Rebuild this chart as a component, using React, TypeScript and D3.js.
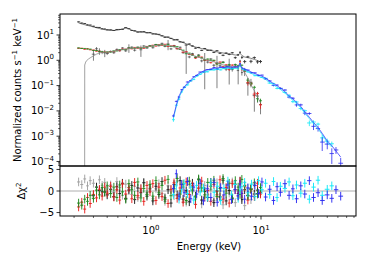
import React from "react";
import * as d3 from "d3";

// ---------------- data ----------------
// soft-band energy grid (keV) shared by the three soft-X-ray spectra
const softEnergy = [
  0.22, 0.235, 0.25, 0.265, 0.28, 0.3, 0.32, 0.34, 0.36, 0.38, 0.4,
  0.43, 0.46, 0.49, 0.52, 0.55, 0.59, 0.63, 0.67, 0.71, 0.76, 0.81, 0.86, 0.92, 0.98,
  1.04, 1.11, 1.18, 1.26, 1.34, 1.43, 1.52, 1.62, 1.73, 1.84, 1.96, 2.09, 2.23, 2.38, 2.54, 2.71, 2.89, 3.08, 3.28,
  3.5, 3.73, 3.98, 4.24, 4.52, 4.82, 5.14, 5.48, 5.84, 6.2, 6.45, 6.7, 7.1, 7.6, 8.1, 8.7, 9.3, 9.9,
];
// model of the bright (upper) spectrum, counts s^-1 keV^-1
const upperModel = [
  29.8, 27.5, 25.5, 24, 22.5, 20.7, 19.3, 18, 17, 16.3, 15.7,
  15.3, 15.2, 15.5, 16.2, 17.3, 18.7, 17.5, 15.5, 14.2, 13.6, 13.1, 12.8, 12.4, 12.1,
  11.6, 10.8, 10.1, 9.4, 8.7, 8.0, 7.3, 6.7, 6.1, 5.5, 5.0, 4.5, 4.1, 3.7, 3.35, 3.1, 2.9, 2.75, 2.6,
  2.45, 2.3, 2.15, 2.05, 1.95, 1.85, 1.78, 1.7, 1.62, 1.6, 1.9, 1.55, 1.35, 1.27, 1.2, 1.08, 0.98, 0.87,
];
// model of the lower group (black / red / green)
const lowerModel = [
  3.36, 3.25, 3.12, 3.0, 2.85, 2.6, 2.42, 2.25, 2.13, 2.08, 2.08,
  2.15, 2.3, 2.45, 2.55, 2.65, 2.8, 2.9, 3.0, 3.05, 3.08, 3.1, 3.2, 3.4, 3.6,
  3.75, 3.9, 4.0, 4.05, 4.0, 3.85, 3.65, 3.4, 3.1, 2.75, 2.35, 2.0, 1.75, 1.58, 1.45, 1.32, 1.2, 1.1, 1.0,
  0.94, 0.87, 0.79, 0.72, 0.66, 0.62, 0.58, 0.56, 0.54, 0.56, 0.7, 0.48, 0.33, 0.2, 0.11, 0.062, 0.035, 0.021,
];
// low-energy part of the grey model line (absorbed component)
const greyModelEnergy = [0.2495, 0.25, 0.255, 0.26, 0.27, 0.28, 0.3, 0.32, 0.34, 0.36, 0.38, 0.4];
const greyModelValue = [1e-6, 0.65, 0.85, 0.97, 1.12, 1.25, 1.5, 1.75, 1.95, 2.05, 2.08, 2.08];

// fractional 1-sigma errors
const upperErr = [
  0.05, 0.05, 0.04, 0.04, 0.04, 0.04, 0.04, 0.04, 0.03, 0.03, 0.03,
  0.03, 0.03, 0.03, 0.03, 0.03, 0.03, 0.03, 0.03, 0.03, 0.03, 0.03, 0.03, 0.03, 0.03,
  0.03, 0.03, 0.03, 0.03, 0.03, 0.03, 0.04, 0.04, 0.04, 0.04, 0.04, 0.04, 0.05, 0.05, 0.05, 0.05, 0.05, 0.05, 0.05,
  0.05, 0.05, 0.06, 0.06, 0.06, 0.07, 0.07, 0.08, 0.08, 0.09, 0.09, 0.1, 0.1, 0.11, 0.12, 0.13, 0.14, 0.15,
];
const lowerErr = [
  0.03, 0.03, 0.03, 0.03, 0.03, 0.03, 0.03, 0.03, 0.03, 0.03, 0.03,
  0.03, 0.03, 0.03, 0.03, 0.03, 0.03, 0.03, 0.03, 0.03, 0.03, 0.03, 0.03, 0.03, 0.03,
  0.03, 0.03, 0.03, 0.03, 0.03, 0.03, 0.03, 0.04, 0.04, 0.04, 0.04, 0.04, 0.04, 0.05, 0.05, 0.05, 0.05, 0.05, 0.06,
  0.06, 0.06, 0.07, 0.07, 0.08, 0.08, 0.09, 0.09, 0.1, 0.1, 0.11, 0.12, 0.14, 0.16, 0.18, 0.2, 0.22, 0.25,
];
const blackErr = [
  0.3, 0.3, 0.3, 0.3, 0.3, 0.3, 0.2, 0.3, 0.15, 0.3, 0.12,
  0.1, 0.1, 0.1, 0.09, 0.09, 0.09, 0.4, 0.08, 0.09, 0.08, 0.4, 0.08, 0.08, 0.08,
  0.07, 0.07, 0.07, 0.07, 0.07, 0.5, 0.08, 0.08, 0.08, 0.08, 0.08, 0.9, 0.09, 0.09, 0.09, 0.09, 0.1, 0.85, 0.1,
  0.1, 0.1, 0.9, 0.11, 0.12, 0.12, 0.9, 0.13, 0.14, 0.5, 0.15, 0.16, 0.4, 0.4, 0.45, 0.5, 0.5, 0.5,
];

// residuals (data - model) / sigma
const upperRes = [
  2.1, 1.5, 2.8, 1.2, 2.4, 1.8, 0.9, 2.6, 1.3, 2.0, 0.7,
  1.4, -0.3, 2.2, 0.8, -1.0, 1.6, 0.4, -0.8, 1.1, -1.5, 0.6, 2.0, -0.4, 0.9,
  -1.8, 0.5, 1.7, -0.6, -2.4, 1.2, 0.2, -1.1, 2.3, -0.7, 0.9, -2.6, 1.5, -0.2, -1.9, 0.8, -3.0, 1.3, -0.9,
  0.4, -2.2, 1.9, -1.3, -3.2, 0.6, -0.5, 2.1, -2.7, 0.3, 1.0, -1.6, -3.4, 0.7, -2.0, 1.4, -0.8, 0.2,
];
const blackRes = [
  null, null, null, null, null, -1.1, 0.9, 0.1, -0.2, -0.2, -0.9,
  0.4, -1.3, 1.0, -0.6, 1.8, -1.7, 0.2, 1.3, -2.0, 0.7, -0.4, 1.9, -1.2, 0.5,
  -2.3, 1.1, -0.8, 2.2, -1.6, 0.3, -2.8, 1.5, -0.9, 2.4, -1.9, 0.05, -2.5, 1.8, -1.2, 2.6, -2.1, -0.1, -1.5,
  2.0, -2.7, 0.0, -1.4, 2.5, -2.3, 0.1, -1.8, 1.6, -0.6, 2.3, -2.0, 0.3, -1.0, 0.5, -0.7, 0.2, -0.3,
];
const redRes = [
  -3.7, -2.6, -4.2, -1.5, -2.9, -0.8, -1.6, 0.4, -1.2, 0.9, -0.5,
  1.1, -1.4, 0.3, -2.1, 1.6, -0.7, 0.8, -1.8, 2.0, -1.1, 0.5, -2.4, 1.3, -0.2,
  1.7, -2.2, 0.9, -1.3, 2.5, -2.9, 0.4, 1.9, -1.7, 0.7, -2.6, 2.1, -0.8, 1.2, -3.1, 0.6, 2.3, -1.4, 0.1,
  -2.4, 1.5, -0.9, 2.6, -1.9, 0.8, -2.8, 1.7, 0.3, -1.2, 2.2, -0.6, 1.0, -2.1, 0.4, -1.3, 1.8, -0.7,
];
const greenRes = [
  -2.8, -3.3, -1.9, -2.4, -1.0, -1.7, 0.2, -0.9, 0.8, -0.3, 1.2,
  -0.6, 0.9, -1.5, 1.4, -0.2, -1.9, 1.7, 0.3, -1.0, 2.1, -1.6, 0.6, -0.8, 1.5,
  -1.2, 2.4, -0.4, 1.3, -2.0, 2.7, -1.1, 0.5, 2.9, -0.7, 1.6, -2.2, 2.3, 0.2, -1.4, 2.8, 0.7, -0.9, 2.0,
  1.1, 2.5, -1.3, 0.6, 2.9, -0.5, 1.8, -1.6, 2.4, 0.9, -0.8, 2.7, 1.3, -1.1, 0.4, 1.9, -0.6, 0.8,
];

// hard-band grid (keV) shared by the two hard-X-ray spectra
const hardEnergy = [
  1.6, 1.7, 1.8, 1.9, 2.0, 2.15, 2.3, 2.45, 2.6, 2.8, 3.0,
  3.25, 3.5, 3.75, 4.0, 4.3, 4.6, 5.0, 5.4, 5.8, 6.2, 6.45, 6.7,
  7.1, 7.6, 8.2, 8.8, 9.5, 10.2, 11, 12, 13, 14, 15,
  16.5, 18, 19.5, 21, 23, 25, 27.5, 30, 33, 36, 40, 44, 48, 53,
];
const hardModel = [
  0.0058, 0.017, 0.039, 0.062, 0.088, 0.125, 0.17, 0.215, 0.26, 0.32, 0.38,
  0.42, 0.46, 0.48, 0.5, 0.52, 0.53, 0.54, 0.54, 0.54, 0.56, 0.7, 0.5,
  0.46, 0.4, 0.34, 0.3, 0.26, 0.235, 0.2, 0.15, 0.12, 0.098, 0.08,
  0.058, 0.039, 0.03, 0.022, 0.015, 0.0091, 0.0056, 0.0035, 0.0022, 0.0013, 0.00065, 0.00042, 0.00026, 0.00015,
];
const hardErr = [
  0.15, 0.1, 0.08, 0.07, 0.06, 0.05, 0.05, 0.04, 0.04, 0.04, 0.04,
  0.04, 0.04, 0.04, 0.04, 0.04, 0.04, 0.04, 0.04, 0.04, 0.04, 0.04, 0.04,
  0.04, 0.04, 0.05, 0.05, 0.05, 0.05, 0.06, 0.06, 0.07, 0.07, 0.08,
  0.09, 0.1, 0.11, 0.12, 0.13, 0.15, 0.17, 0.2, 0.22, 0.25, 0.28, 0.3, 0.33, 0.36,
];
const blueRes = [
  0.6, 4.0, -1.2, 1.5, -0.4, 2.2, -1.8, 0.9, -0.7, 1.8, -2.3,
  0.5, -1.5, 2.0, -2.6, 0.8, -0.9, 1.4, -2.0, 0.3, -1.1, 1.6, -0.5,
  -1.9, 0.7, -1.2, 1.3, -0.6, 2.1, -1.4, 0.4, -2.2, 1.0, -0.3,
  1.7, -1.0, 0.5, -1.8, 1.2, -0.7, 2.4, -1.5, -0.4, -2.2, -0.9, -1.7, 0.3, -1.2,
];
const cyanRes = [
  -0.8, 1.2, -1.9, 0.4, 1.7, -0.6, 0.9, -2.1, 1.3, -0.2, 0.7,
  -1.4, 1.9, -0.3, 1.1, -2.2, 0.6, 2.3, -0.9, 1.5, -1.7, 0.2, 1.0,
  2.0, -0.4, 1.6, -1.3, 2.4, 0.3, 1.8, -0.8, 2.2, -1.5, 1.1,
  0.6, 2.1, -1.1, 1.4, -0.5, 1.8, -1.9, 0.9, 2.5, -1.0, 0.4, 1.2, null, null,
];
const fpmbNorm = 0.88;

// axis ticks
const yTopExponents = [-4, -3, -2, -1, 0, 1];
const xMajorExponents = [0, 1];
const resTicks = [-5, 0, 5];

// ---------------- drawing ----------------
type Series = {
  E: number[];
  model: number[];
  err: number[];
  res: (number | null)[];
  norm: number;
  color: string;
  resColor: string;
  width: number;
};

const FONT = "DejaVu Sans, sans-serif";
const sup = (n: number) => (n < 0 ? "\u2212" + Math.abs(n) : String(n));

function binEdges(E: number[]) {
  return E.map((e, i) => {
    const lo = i > 0 ? Math.sqrt(E[i - 1] * e) : e / Math.sqrt(E[i + 1] / e);
    const hi = i < E.length - 1 ? Math.sqrt(E[i + 1] * e) : e * Math.sqrt(e / E[i - 1]);
    return [lo, hi];
  });
}

export default function App() {
  const W = 367;
  const H = 264;
  const X0 = 60, X1 = 356, YT = 14, YM = 166, YB = 216;

  const x = d3.scaleLog().domain([0.149, 73]).range([X0, X1]);
  const yTop = d3.scaleLog().domain([Math.pow(10, -4.178), Math.pow(10, 1.83)]).range([YM, YT]);
  const yRes = d3.scaleLinear().domain([-5.8, 5.8]).range([YB, YM]);

  // drawing order: cyan before blue so the blue spectrum sits on top
  const series: Series[] = [
    { E: softEnergy, model: upperModel, err: upperErr, res: upperRes, norm: 1, color: "#333333", resColor: "#a0a0a0", width: 0.9 },
    { E: softEnergy, model: lowerModel, err: blackErr, res: blackRes, norm: 1, color: "#2a2a2a", resColor: "#1a1a1a", width: 0.6 },
    { E: softEnergy, model: lowerModel, err: lowerErr, res: redRes, norm: 1, color: "#e8201e", resColor: "#e8201e", width: 0.8 },
    { E: softEnergy, model: lowerModel, err: lowerErr, res: greenRes, norm: 1, color: "#1f8a1f", resColor: "#1f8a1f", width: 0.8 },
    { E: hardEnergy, model: hardModel, err: hardErr, res: cyanRes, norm: fpmbNorm, color: "#10e8f8", resColor: "#10e8f8", width: 0.8 },
    { E: hardEnergy, model: hardModel, err: hardErr, res: blueRes, norm: 1, color: "#2a2af0", resColor: "#2a2af0", width: 0.8 },
  ];

  const topPaths = series.map((s) => {
    const ed = binEdges(s.E);
    let p = "";
    s.E.forEach((e, i) => {
      const r = s.res[i];
      if (r == null) return;
      const m = s.model[i] * s.norm;
      const sig = m * s.err[i];
      const c = m + r * sig;
      if (c <= 0) return;
      const yc = yTop(c);
      const ylo = yTop(Math.max(c - sig, 1e-7));
      const yhi = yTop(c + sig);
      p += `M${x(ed[i][0]).toFixed(2)},${yc.toFixed(2)}H${x(ed[i][1]).toFixed(2)}`;
      p += `M${x(e).toFixed(2)},${ylo.toFixed(2)}V${yhi.toFixed(2)}`;
    });
    return p;
  });

  const resPaths = series.map((s) => {
    const ed = binEdges(s.E);
    let p = "";
    s.E.forEach((e, i) => {
      const r = s.res[i];
      if (r == null) return;
      const yc = yRes(r);
      p += `M${x(ed[i][0]).toFixed(2)},${yc.toFixed(2)}H${x(ed[i][1]).toFixed(2)}`;
      p += `M${x(e).toFixed(2)},${yRes(r - 1).toFixed(2)}V${yRes(r + 1).toFixed(2)}`;
    });
    return p;
  });

  const line = d3
    .line<[number, number]>()
    .x((d) => x(d[0]))
    .y((d) => yTop(d[1]));

  const lowerLine: [number, number][] = [
    ...greyModelEnergy.map((e, i) => [e, greyModelValue[i]] as [number, number]),
    ...softEnergy.slice(11).map((e, i) => [e, lowerModel[i + 11]] as [number, number]),
  ];
  const upperLine: [number, number][] = softEnergy.map((e, i) => [e, upperModel[i]]);
  const blueLine: [number, number][] = hardEnergy.map((e, i) => [e, hardModel[i]]);
  const cyanLine: [number, number][] = hardEnergy.slice(0, 46).map((e, i) => [e, hardModel[i] * fpmbNorm]);

  // ticks
  const yMinor: number[] = [];
  for (let p = -5; p <= 2; p++) {
    for (let k = 2; k <= 9; k++) {
      const v = k * Math.pow(10, p);
      const [a, b] = yTop.domain();
      if (v >= a && v <= b) yMinor.push(v);
    }
  }
  const xMinor: number[] = [];
  for (let p = -1; p <= 1; p++) {
    for (let k = 2; k <= 9; k++) {
      const v = k * Math.pow(10, p);
      const [a, b] = x.domain();
      if (v >= a && v <= b) xMinor.push(v);
    }
  }

  return (
    <svg
      width={W}
      height={H}
      viewBox={`0 0 ${W} ${H}`}
      style={{ position: "absolute", left: 0, top: 0, background: "#fff" }}
      fontFamily={FONT}
    >
      <defs>
        <clipPath id="clipTop">
          <rect x={X0} y={YT} width={X1 - X0} height={YM - YT} />
        </clipPath>
        <clipPath id="clipRes">
          <rect x={X0} y={YM} width={X1 - X0} height={YB - YM} />
        </clipPath>
      </defs>
      <rect x={0} y={0} width={W} height={H} fill="#fff" />

      {/* top panel data */}
      <g clipPath="url(#clipTop)" fill="none">
        {topPaths.map((p, i) => (
          <path key={i} d={p} stroke={series[i].color} strokeWidth={series[i].width} />
        ))}
        <path d={line(upperLine) || ""} stroke="#333" strokeWidth={0.6} />
        <path d={line(lowerLine) || ""} stroke="#8a8a8a" strokeWidth={0.8} />
        <path d={line(cyanLine) || ""} stroke="#10e8f8" strokeWidth={0.7} />
        <path d={line(blueLine) || ""} stroke="#3a3aff" strokeWidth={0.8} />
      </g>

      {/* residual panel */}
      <line x1={X0} x2={X1} y1={yRes(0)} y2={yRes(0)} stroke="#999" strokeWidth={0.8} />
      <g clipPath="url(#clipRes)" fill="none">
        {resPaths.map((p, i) => (
          <path key={i} d={p} stroke={series[i].resColor} strokeWidth={0.95} />
        ))}
      </g>

      {/* frames */}
      <rect x={X0} y={YT} width={X1 - X0} height={YM - YT} fill="none" stroke="#000" strokeWidth={1} />
      <rect x={X0} y={YM} width={X1 - X0} height={YB - YM} fill="none" stroke="#000" strokeWidth={1} />

      {/* top y axis */}
      {yMinor.map((v, i) => (
        <line key={"ym" + i} x1={X0 - 2} x2={X0} y1={yTop(v)} y2={yTop(v)} stroke="#000" strokeWidth={0.6} />
      ))}
      {yTopExponents.map((p) => {
        const yy = yTop(Math.pow(10, p));
        return (
          <g key={"yt" + p}>
            <line x1={X0 - 3.5} x2={X0} y1={yy} y2={yy} stroke="#000" strokeWidth={0.8} />
            <text x={X0 - 6} y={yy + 3.6} fontSize={10} textAnchor="end" fill="#000">
              <tspan>10</tspan>
              <tspan dy={-4.5} fontSize={7}>
                {sup(p)}
              </tspan>
            </text>
          </g>
        );
      })}

      {/* residual y axis */}
      {resTicks.map((t) => {
        const yy = yRes(t);
        return (
          <g key={"rt" + t}>
            <line x1={X0 - 3.5} x2={X0} y1={yy} y2={yy} stroke="#000" strokeWidth={0.8} />
            <text x={X0 - 6} y={yy + 3.6} fontSize={10} textAnchor="end" fill="#000">
              {t < 0 ? "\u2212" + Math.abs(t) : String(t)}
            </text>
          </g>
        );
      })}

      {/* bottom x axis */}
      {xMinor.map((v, i) => (
        <line key={"xm" + i} x1={x(v)} x2={x(v)} y1={YB} y2={YB + 2} stroke="#000" strokeWidth={0.6} />
      ))}
      {xMajorExponents.map((p) => {
        const xx = x(Math.pow(10, p));
        return (
          <g key={"xt" + p}>
            <line x1={xx} x2={xx} y1={YB} y2={YB + 3.5} stroke="#000" strokeWidth={0.8} />
            <text x={xx} y={YB + 18} fontSize={10} textAnchor="middle" fill="#000">
              <tspan>10</tspan>
              <tspan dy={-4.5} fontSize={7}>
                {sup(p)}
              </tspan>
            </text>
          </g>
        );
      })}

      {/* axis labels */}
      <text x={(X0 + X1) / 2 + 1} y={250} fontSize={10} textAnchor="middle" fill="#000">
        Energy (keV)
      </text>
      <text transform={`translate(21,${(YT + YM) / 2}) rotate(-90)`} fontSize={10} textAnchor="middle" fill="#000">
        <tspan>Normalized counts s</tspan>
        <tspan dy={-4.5} fontSize={7}>{"\u22121"}</tspan>
        <tspan dy={4.5}> keV</tspan>
        <tspan dy={-4.5} fontSize={7}>{"\u22121"}</tspan>
      </text>
      <text transform={`translate(25,${yRes(0)}) rotate(-90)`} fontSize={10} textAnchor="middle" fill="#000">
        <tspan>{"\u0394\u03C7"}</tspan>
        <tspan dy={-4.5} fontSize={7}>2</tspan>
      </text>
    </svg>
  );
}
